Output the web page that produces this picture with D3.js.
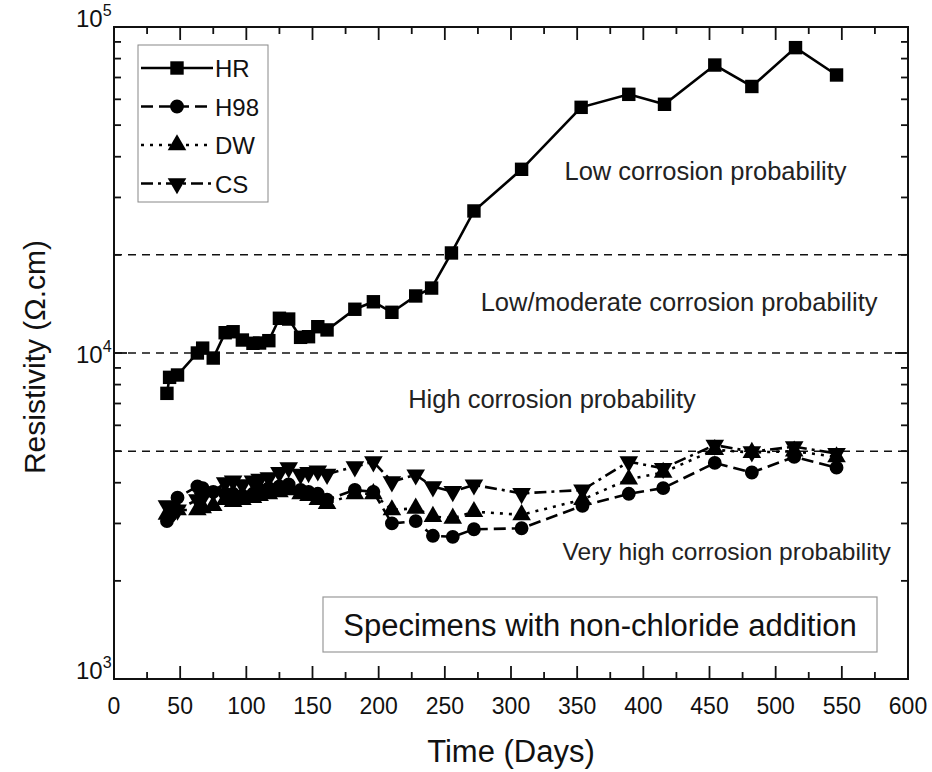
<!DOCTYPE html>
<html>
<head>
<meta charset="utf-8">
<script src="https://cdn.jsdelivr.net/npm/d3@7"></script>
<style>
  body { margin: 0; background: #fff; }
  text { font-family: "Liberation Sans", Arial, sans-serif; fill: #111; }
</style>
</head>
<body>
<div id="chart"></div>
<script>
// ---- data ----
const hrDays = [40, 42, 48, 63, 67, 75, 84, 90, 97, 105, 110, 117, 125, 132, 141, 147, 154, 161,
  182, 196, 210, 228, 240, 255, 272, 308, 353, 389, 416, 454, 482, 515, 546];
const hrValues = [7520, 8420, 8560, 10000, 10350, 9650, 11540, 11620, 10960, 10710, 10730, 10910,
  12780, 12710, 11170, 11220, 12040, 11770, 13620, 14360, 13330, 14960, 15820, 20270, 27270,
  36600, 56700, 62150, 57940, 76440, 65700, 86430, 71250];

const lowDays = [40, 42, 48, 63, 67, 75, 84, 90, 97, 105, 110, 117, 125, 132, 141, 147, 154, 161,
  182, 196, 210, 228, 241, 256, 272, 308, 354, 389, 415, 454, 482, 514, 546];
const h98Values = [3050, 3150, 3600, 3900, 3850, 3750, 3700, 3700, 3650, 3700, 3800, 3850, 3900,
  3950, 3800, 3750, 3700, 3550, 3800, 3750, 3000, 3050, 2750, 2730, 2880, 2900, 3400, 3700, 3850,
  4600, 4300, 4800, 4450];
const dwValues = [3200, 3250, 3300, 3300, 3350, 3400, 3550, 3500, 3550, 3600, 3650, 3700, 3750,
  3800, 3700, 3650, 3550, 3450, 3700, 3700, 3300, 3340, 3150, 3110, 3260, 3190, 3550, 4100, 4300,
  5050, 4950, 5000, 4800];
const csValues = [3400, 3350, 3300, 3550, 3600, 3750, 4000, 4050, 3950, 4050, 4100, 4150, 4300,
  4450, 4250, 4300, 4350, 4250, 4480, 4640, 4030, 4230, 3890, 3760, 3940, 3710, 3800, 4640, 4430,
  5220, 4980, 5160, 4920];

const thresholds = [20000, 10000, 5000];
const zoneLabels = ["Low corrosion probability", "Low/moderate corrosion probability",
  "High corrosion probability", "Very high corrosion probability"];
const zoneValues = [33900, 13450, 6780, 2320];
const zoneDays = [447, 427, 331, 463];

const xTicks = d3.range(0, 601, 50);
const yTicks = [1e3, 1e4, 1e5];

// ---- layout ----
const width = 932, height = 772;
const plotLeft = 114, plotRight = 908, plotTop = 27, plotBottom = 679;

const svg = d3.select("#chart").append("svg")
  .attr("width", width).attr("height", height);

const x = d3.scaleLinear().domain([0, 600]).range([plotLeft, plotRight]);
const y = d3.scaleLog().domain([1e3, 1e5]).range([plotBottom, plotTop]);

// threshold lines
svg.selectAll(".thr").data(thresholds).join("line")
  .attr("x1", plotLeft).attr("x2", plotRight)
  .attr("y1", d => y(d)).attr("y2", d => y(d))
  .attr("stroke", "#111").attr("stroke-width", 1.5)
  .attr("stroke-dasharray", "8,6");

// zone texts
svg.selectAll(".zone").data(zoneLabels).join("text")
  .attr("x", (d, i) => x(zoneDays[i]))
  .attr("y", (d, i) => y(zoneValues[i]))
  .attr("text-anchor", "middle")
  .style("font-size", (d, i) => i === 3 ? "24.5px" : "25.5px")
  .style("fill", "#222")
  .text(d => d);

// axes frame with inward ticks
const minorY = [];
for (let e = 3; e < 5; e++) for (let m = 2; m <= 9; m++) minorY.push(m * Math.pow(10, e));
const minorX = d3.range(25, 600, 50);

const axisG = svg.append("g").attr("stroke", "#111");
axisG.append("rect").attr("x", plotLeft).attr("y", plotTop)
  .attr("width", plotRight - plotLeft).attr("height", plotBottom - plotTop)
  .attr("fill", "none").attr("stroke-width", 2);

function tick(x1, y1, x2, y2) {
  axisG.append("line").attr("x1", x1).attr("y1", y1).attr("x2", x2).attr("y2", y2)
    .attr("stroke-width", 1.8);
}
xTicks.forEach(d => { tick(x(d), plotBottom, x(d), plotBottom - 13); tick(x(d), plotTop, x(d), plotTop + 13); });
minorX.forEach(d => { tick(x(d), plotBottom, x(d), plotBottom - 7); tick(x(d), plotTop, x(d), plotTop + 7); });
yTicks.forEach(d => { tick(plotLeft, y(d), plotLeft + 13, y(d)); tick(plotRight, y(d), plotRight - 13, y(d)); });
minorY.forEach(d => { tick(plotLeft, y(d), plotLeft + 7, y(d)); tick(plotRight, y(d), plotRight - 7, y(d)); });

// tick labels
svg.selectAll(".xt").data(xTicks).join("text")
  .attr("x", d => x(d)).attr("y", 714)
  .attr("text-anchor", "middle")
  .style("font-size", "23px")
  .text(d => d);

// end labels sit a little above their tick, as in the original
const yl = svg.selectAll(".yt").data(yTicks).join("text")
  .attr("x", 76).attr("y", d => y(d) + (d === 1e4 ? 10 : 0))
  .style("font-size", "24px");
yl.append("tspan").text("10");
yl.append("tspan").attr("dy", -11).style("font-size", "16px")
  .text(d => Math.round(Math.log10(d)));

// axis titles
svg.append("text").attr("x", 511).attr("y", 762)
  .attr("text-anchor", "middle").style("font-size", "31px").text("Time (Days)");
svg.append("text")
  .attr("transform", "translate(45, 357) rotate(-90)")
  .attr("text-anchor", "middle").style("font-size", "30px").text("Resistivity (\u03A9.cm)");

// series
const series = [
  { name: "HR", days: hrDays, values: hrValues, dash: null, sym: d3.symbolSquare, size: 180, rot: 0 },
  { name: "H98", days: lowDays, values: h98Values, dash: "12,6", sym: d3.symbolCircle, size: 150, rot: 0 },
  { name: "DW", days: lowDays, values: dwValues, dash: "3,6", sym: d3.symbolTriangle, size: 150, rot: 0 },
  { name: "CS", days: lowDays, values: csValues, dash: "12,5,3,5", sym: d3.symbolTriangle, size: 150, rot: 180 }
];

const line = d3.line().x(d => x(d[0])).y(d => y(d[1]));

series.forEach(s => {
  const pts = s.days.map((d, i) => [d, s.values[i]]);
  svg.append("path").datum(pts)
    .attr("d", line)
    .attr("fill", "none").attr("stroke", "#000")
    .attr("stroke-width", 2.6)
    .attr("stroke-dasharray", s.dash);
  svg.append("g").selectAll("path").data(pts).join("path")
    .attr("d", d3.symbol().type(s.sym).size(s.size))
    .attr("transform", d => `translate(${x(d[0])},${y(d[1])}) rotate(${s.rot})`)
    .attr("fill", "#000");
});

// legend
const lg = svg.append("g");
lg.append("rect").attr("x", 138).attr("y", 45).attr("width", 130).attr("height", 157)
  .attr("fill", "#fff").attr("stroke", "#888").attr("stroke-width", 1);
series.forEach((s, i) => {
  const ly = 68 + i * 38.5;
  lg.append("line").attr("x1", 141).attr("x2", 213).attr("y1", ly).attr("y2", ly)
    .attr("stroke", "#000").attr("stroke-width", 2.6).attr("stroke-dasharray", s.dash);
  lg.append("path").attr("d", d3.symbol().type(s.sym).size(s.size))
    .attr("transform", `translate(177,${ly}) rotate(${s.rot})`).attr("fill", "#000");
  lg.append("text").attr("x", 215).attr("y", ly + 9).style("font-size", "24px").text(s.name);
});

// note box
const nb = svg.append("g");
nb.append("rect").attr("x", 323).attr("y", 597).attr("width", 554).attr("height", 55)
  .attr("fill", "#fff").attr("stroke", "#999").attr("stroke-width", 1.2);
nb.append("text").attr("x", 600).attr("y", 636).attr("text-anchor", "middle")
  .style("font-size", "31px").text("Specimens with non-chloride addition");
</script>
</body>
</html>
